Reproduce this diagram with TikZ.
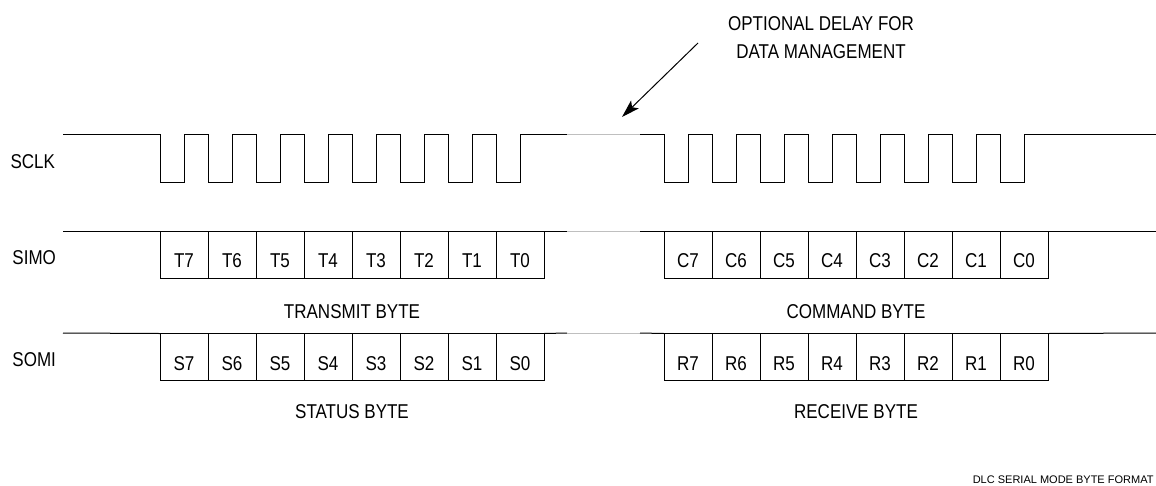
\documentclass[tikz,border=0pt]{standalone}
\usepackage{fontspec}
\setmainfont{Liberation Sans}[FakeStretch=0.85]
\newfontfamily\notefont{Liberation Sans}
\usetikzlibrary{positioning,arrows.meta}

\begin{document}
\begin{tikzpicture}[x=1pt, y=-1pt, line width=1pt,
  bitbox/.style={draw, minimum width=48pt, minimum height=47pt, inner sep=0pt, outer sep=0pt,
    text height=26pt, text depth=0pt, font=\fontsize{20}{24}\selectfont},
  signame/.style={anchor=west, inner sep=0pt, font=\fontsize{20}{24}\selectfont},
  bytename/.style={inner sep=0pt, font=\fontsize{20}{24}\selectfont},
  delayline/.style={draw=black!25}]
\useasboundingbox (0,0) rectangle (1156,485);

% signal names
\node[signame] (SCLK) at (10,162) {SCLK};
\node[signame] (SIMO) at (12,258) {SIMO};
\node[signame] (SOMI) at (12,360) {SOMI};

% SIMO bits
\node[bitbox] (T7) at (184,254.5) {T7};
\node[bitbox, right=0pt of T7] (T6) {T6};
\node[bitbox, right=0pt of T6] (T5) {T5};
\node[bitbox, right=0pt of T5] (T4) {T4};
\node[bitbox, right=0pt of T4] (T3) {T3};
\node[bitbox, right=0pt of T3] (T2) {T2};
\node[bitbox, right=0pt of T2] (T1) {T1};
\node[bitbox, right=0pt of T1] (T0) {T0};

\node[bitbox] (C7) at (688,254.5) {C7};
\node[bitbox, right=0pt of C7] (C6) {C6};
\node[bitbox, right=0pt of C6] (C5) {C5};
\node[bitbox, right=0pt of C5] (C4) {C4};
\node[bitbox, right=0pt of C4] (C3) {C3};
\node[bitbox, right=0pt of C3] (C2) {C2};
\node[bitbox, right=0pt of C2] (C1) {C1};
\node[bitbox, right=0pt of C1] (C0) {C0};

% SOMI bits
\node[bitbox] (S7) at (184,357) {S7};
\node[bitbox, right=0pt of S7] (S6) {S6};
\node[bitbox, right=0pt of S6] (S5) {S5};
\node[bitbox, right=0pt of S5] (S4) {S4};
\node[bitbox, right=0pt of S4] (S3) {S3};
\node[bitbox, right=0pt of S3] (S2) {S2};
\node[bitbox, right=0pt of S2] (S1) {S1};
\node[bitbox, right=0pt of S1] (S0) {S0};

\node[bitbox] (R7) at (688,357) {R7};
\node[bitbox, right=0pt of R7] (R6) {R6};
\node[bitbox, right=0pt of R6] (R5) {R5};
\node[bitbox, right=0pt of R5] (R4) {R4};
\node[bitbox, right=0pt of R4] (R3) {R3};
\node[bitbox, right=0pt of R3] (R2) {R2};
\node[bitbox, right=0pt of R2] (R1) {R1};
\node[bitbox, right=0pt of R1] (R0) {R0};

% byte names
\node[bytename] (TransmitByte) at (352,312) {TRANSMIT BYTE};
\node[bytename] (CommandByte) at (856,312) {COMMAND BYTE};
\node[bytename] (StatusByte) at (352,412) {STATUS BYTE};
\node[bytename] (ReceiveByte) at (856,412) {RECEIVE BYTE};

% SCLK
\draw (63,134) -- (160,134) |- (184,182) |- (208,134) |- (232,182) |- (256,134)
  |- (280,182) |- (304,134) |- (328,182) |- (352,134) |- (376,182) |- (400,134)
  |- (424,182) |- (448,134) |- (472,182) |- (496,134) |- (520,182) |- (567,134);
\draw[delayline] (567,134) -- (640,134);
\draw (640,134) -- (664,134) |- (688,182) |- (712,134) |- (736,182) |- (760,134)
  |- (784,182) |- (808,134) |- (832,182) |- (856,134) |- (880,182) |- (904,134)
  |- (928,182) |- (952,134) |- (976,182) |- (1000,134) |- (1024,182) |- (1156,134);

% SIMO and SOMI lines
\draw (63,231) -- (T7.north west);
\draw (T0.north east) -- (567,231);
\draw[delayline] (567,231) -- (640,231);
\draw (640,231) -- (C7.north west);
\draw (C0.north east) -- (1156,231);

\draw (63,333) -- (S7.north west);
\draw (S0.north east) -- (567,333);
\draw[delayline] (567,333) -- (640,333);
\draw (640,333) -- (R7.north west);
\draw (R0.north east) -- (1156,333);

% delay note
\node[bytename, align=center, font=\fontsize{20}{28}\selectfont] (Delay) at (821,38)
  {OPTIONAL DELAY FOR\\DATA MANAGEMENT};
\coordinate (DelayTail) at (698,43);
\coordinate (DelayTip) at (622,117);
\draw[-{Stealth[length=18pt, width=11pt, inset=4pt]}] (DelayTail) -- (DelayTip);

\node[anchor=east, inner sep=0pt, font=\notefont\fontsize{11}{13}\selectfont] (Caption) at (1154,480)
  {DLC SERIAL MODE BYTE FORMAT};
\end{tikzpicture}
\end{document}
